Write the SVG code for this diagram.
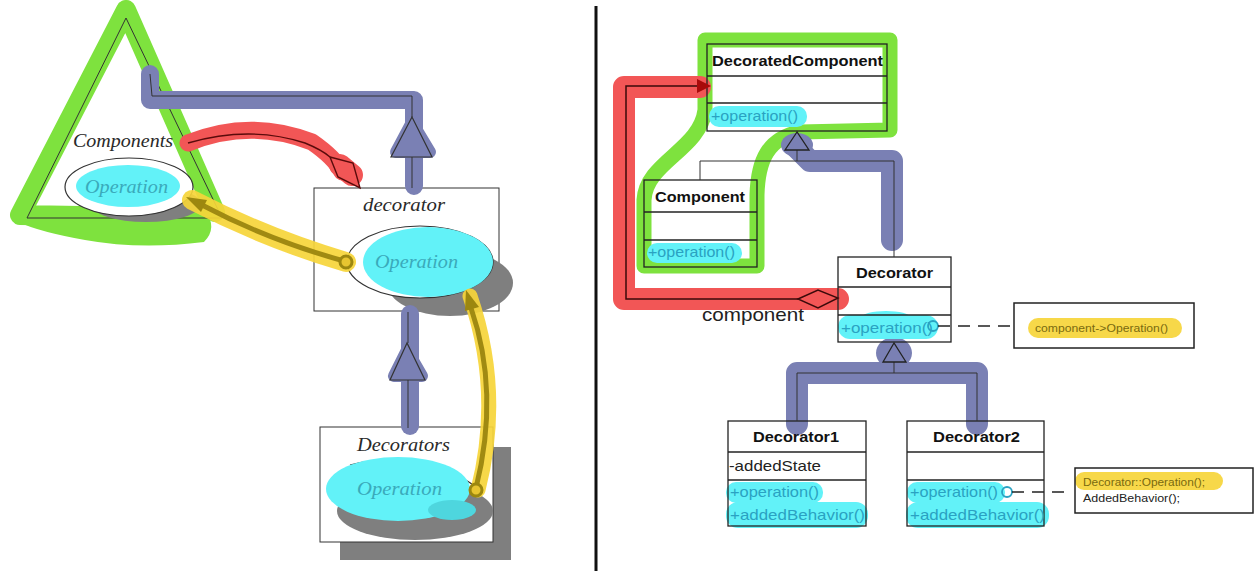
<svg xmlns="http://www.w3.org/2000/svg" width="1254" height="571" viewBox="0 0 1254 571">
<style>
.hg{fill:none;stroke:#7ee23e;stroke-linecap:round;stroke-linejoin:round}
.hb{fill:none;stroke:#7a80b4;stroke-linecap:round;stroke-linejoin:round}
.hr{fill:none;stroke:#f25656;stroke-linecap:round;stroke-linejoin:round}
.hy{fill:none;stroke:#f6d53a;stroke-linecap:round;stroke-linejoin:round;opacity:.92}
.cy{fill:#62f2f8}
.ln{fill:none;stroke:#222;stroke-width:1.3}
.thin{fill:none;stroke:#333;stroke-width:1}
.ol{fill:none;stroke:#a08a12;stroke-linecap:round}
.shadow{fill:#7f7f7f}
.it{font-family:"Liberation Serif","Times New Roman",serif;font-style:italic;font-size:18px;fill:#2a2a2a}
.itc{font-family:"Liberation Serif","Times New Roman",serif;font-style:italic;font-size:19px;fill:#3aaabb}
.t{font-family:"Liberation Sans",Arial,sans-serif;font-size:15px;fill:#222}
.tb{font-family:"Liberation Sans",Arial,sans-serif;font-size:15px;font-weight:bold;fill:#111}
.op{font-family:"Liberation Sans",Arial,sans-serif;font-size:15px;fill:#2aa2c2}
.note{font-family:"Liberation Sans",Arial,sans-serif;font-size:11px;fill:#222}
</style>
<rect width="1254" height="571" fill="#fff"/>
<!-- divider -->
<line x1="596" y1="6" x2="596" y2="571" stroke="#111" stroke-width="3"/>

<!-- ========== LEFT PANEL ========== -->
<g id="components">
  <path class="hg" stroke-width="20" d="M126,10 L20,215 L200,218 M126,10 L215,212"/>
  <path d="M22,210 L205,210 Q218,228 204,242 Q140,250 85,240 Q40,232 18,222 Z" fill="#7ee23e"/>
  <polygon class="thin" points="126,18 27,218 222,218"/>
  <ellipse class="shadow" cx="146" cy="204" rx="55" ry="18"/>
  <ellipse cx="129" cy="187" rx="64" ry="29" fill="#fff" stroke="#333" stroke-width="1.2"/>
  <ellipse class="cy" cx="128" cy="186" rx="52" ry="21"/>
  <text class="it" x="73" y="147" textLength="100" lengthAdjust="spacingAndGlyphs">Components</text>
  <text class="itc" x="85" y="193" textLength="83" lengthAdjust="spacingAndGlyphs">Operation</text>
</g>

<g id="decorator">
  <rect class="thin" x="314" y="188" width="185" height="123" stroke="#555"/>
  <ellipse class="shadow" cx="450" cy="283" rx="63" ry="33"/>
  <ellipse cx="420" cy="262" rx="73" ry="36" fill="#fff" stroke="#333" stroke-width="1.2"/>
  <ellipse class="cy" cx="428" cy="262" rx="65" ry="35"/>
  <text class="it" x="363" y="211" textLength="82" lengthAdjust="spacingAndGlyphs">decorator</text>
  <text class="itc" x="375" y="268" textLength="83" lengthAdjust="spacingAndGlyphs">Operation</text>
</g>

<g id="decorators">
  <path class="shadow" d="M493,447 L511,447 L511,560 L340,560 L340,542 L493,542 Z"/>
  <rect class="thin" x="320" y="427" width="173" height="115" stroke="#555"/>
  <ellipse class="shadow" cx="415" cy="511" rx="78" ry="29"/>
  <path d="M350,465 Q420,448 478,488" fill="none" stroke="#333" stroke-width="1.2"/>
  <ellipse class="cy" cx="398" cy="489" rx="72" ry="32"/>
  <ellipse cx="452" cy="510" rx="24" ry="10" fill="#4ed6de"/>
  <text class="it" x="357" y="451" textLength="93" lengthAdjust="spacingAndGlyphs">Decorators</text>
  <text class="itc" x="357" y="495" textLength="85" lengthAdjust="spacingAndGlyphs">Operation</text>
</g>

<g id="left-connectors">
  <!-- blue inheritance: decorator -> components -->
  <path class="hb" stroke-width="18" d="M150,74 L150,100 L414,100 L414,186"/>
  <path class="hb" stroke-width="12" d="M412,122 L396,152 L430,152 Z"/>
  <path class="thin" d="M150,74 L152,96 L412,96 L412,117 M412,157 L412,188"/>
  <polygon points="412,117 391,157 432,157" fill="#7a80b4" stroke="#333" stroke-width="1.2"/>
  <!-- blue inheritance: decorators -> decorator -->
  <path class="hb" stroke-width="18" d="M410,314 L410,426"/>
  <path class="hb" stroke-width="12" d="M407,350 L394,376 L422,376 Z"/>
  <path class="thin" d="M408,312 L408,343 M408,380 L408,428"/>
  <polygon points="407,343 390,380 425,380" fill="#7a80b4" stroke="#333" stroke-width="1.2"/>
  <!-- red aggregation -->
  <path class="hr" stroke-width="17" d="M188,143 Q250,118 312,142 Q335,158 342,172"/>
  <path class="hr" stroke-width="22" d="M340,165 L352,175"/>
  <path fill="none" stroke="#5a0b0b" stroke-width="1.4" d="M188,143 Q250,125 305,143 Q322,150 330,157"/>
  <polygon points="330,157 353,163 360,188 338,177" fill="#f25656" stroke="#5a0b0b" stroke-width="1.4"/>
  <!-- yellow call arrows -->
  <path class="hy" stroke-width="20" d="M346,262 Q265,238 192,200"/>
  <path class="ol" stroke-width="5" d="M344,261 Q268,240 202,205"/>
  <polygon points="186,197 207,200 201,212" fill="#9c870f"/>
  <circle cx="346" cy="262" r="6" fill="#e8c530" stroke="#9c870f" stroke-width="3"/>
  <path class="hy" stroke-width="15" d="M478,490 Q503,392 470,296"/>
  <path class="ol" stroke-width="5" d="M476,488 Q500,392 471,308"/>
  <polygon points="466,290 479,307 465,311" fill="#9c870f"/>
  <circle cx="476" cy="490" r="6" fill="#e8c530" stroke="#9c870f" stroke-width="3"/>
</g>

<!-- ========== RIGHT PANEL ========== -->
<g id="right-highlights">
  <path class="hg" stroke-width="15" d="M705,40 L890,40 L890,130 L800,132 C768,138 758,160 757,195 L757,266 L644,266 L644,200 C646,162 700,150 705,110 Z"/>
  <path class="hb" stroke-width="22" d="M797,148 L810,161 L892,161 L892,240"/>
  <ellipse cx="797" cy="145" rx="16" ry="12" fill="#7a80b4"/>
  <path class="hb" stroke-width="22" d="M797,424 L797,373 L977,373 L977,424"/>
  <ellipse cx="894" cy="353" rx="18" ry="16" fill="#7a80b4"/>
  <path class="hr" stroke-width="22" d="M838,299 L624,299 L624,87 L700,87"/>
  <path class="hy" stroke-width="20" d="M1038,328 L1172,328"/>
  <path class="hy" stroke-width="18" d="M1084,481 L1214,481"/>
  <!-- cyan operation highlights -->
  <rect class="cy" x="709" y="106" width="98" height="21" rx="10"/>
  <rect class="cy" x="647" y="243" width="95" height="20" rx="10"/>
  <rect class="cy" x="838" y="315" width="100" height="24" rx="12"/>
  <ellipse class="cy" cx="886" cy="317" rx="24" ry="6"/>
  <rect class="cy" x="726" y="482" width="97" height="21" rx="10"/>
  <rect class="cy" x="726" y="502" width="142" height="26" rx="12"/>
  <rect class="cy" x="907" y="482" width="98" height="21" rx="10"/>
  <rect class="cy" x="906" y="502" width="143" height="26" rx="12"/>
</g>

<g id="DecoratedComponent">
  <rect class="ln" x="707" y="44" width="180" height="87"/>
  <line class="ln" x1="707" y1="76" x2="887" y2="76"/>
  <line class="ln" x1="707" y1="103" x2="887" y2="103"/>
  <text class="tb" x="712" y="66" textLength="171" lengthAdjust="spacingAndGlyphs">DecoratedComponent</text>
  <text class="op" x="711" y="121" textLength="87" lengthAdjust="spacingAndGlyphs">+operation()</text>
</g>

<g id="Component">
  <rect class="ln" x="644" y="180" width="113" height="87"/>
  <line class="ln" x1="644" y1="212" x2="757" y2="212"/>
  <line class="ln" x1="644" y1="240" x2="757" y2="240"/>
  <text class="tb" x="655" y="202" textLength="90" lengthAdjust="spacingAndGlyphs">Component</text>
  <text class="op" x="648" y="257" textLength="87" lengthAdjust="spacingAndGlyphs">+operation()</text>
</g>

<g id="Decorator">
  <rect class="ln" x="838" y="257" width="113" height="85"/>
  <line class="ln" x1="838" y1="287" x2="951" y2="287"/>
  <line class="ln" x1="838" y1="315" x2="951" y2="315"/>
  <text class="tb" x="856" y="278" textLength="77" lengthAdjust="spacingAndGlyphs">Decorator</text>
  <text class="op" x="841" y="333" textLength="92" lengthAdjust="spacingAndGlyphs">+operation()</text>
</g>

<g id="Decorator1">
  <rect class="ln" x="728" y="421" width="138" height="105"/>
  <line class="ln" x1="728" y1="452" x2="866" y2="452"/>
  <line class="ln" x1="728" y1="480" x2="866" y2="480"/>
  <text class="tb" x="753" y="442" textLength="86" lengthAdjust="spacingAndGlyphs">Decorator1</text>
  <text class="t" x="729" y="471" textLength="92" lengthAdjust="spacingAndGlyphs">-addedState</text>
  <text class="op" x="730" y="497" textLength="89" lengthAdjust="spacingAndGlyphs">+operation()</text>
  <text class="op" x="730" y="520" textLength="135" lengthAdjust="spacingAndGlyphs">+addedBehavior()</text>
</g>

<g id="Decorator2">
  <rect class="ln" x="907" y="421" width="137" height="105"/>
  <line class="ln" x1="907" y1="452" x2="1044" y2="452"/>
  <line class="ln" x1="907" y1="480" x2="1044" y2="480"/>
  <text class="tb" x="933" y="442" textLength="87" lengthAdjust="spacingAndGlyphs">Decorator2</text>
  <text class="op" x="910" y="497" textLength="88" lengthAdjust="spacingAndGlyphs">+operation()</text>
  <text class="op" x="910" y="520" textLength="135" lengthAdjust="spacingAndGlyphs">+addedBehavior()</text>
</g>

<g id="note1">
  <rect x="1014" y="303" width="180" height="45" fill="none" stroke="#222" stroke-width="1.5"/>
  <text class="note" x="1035" y="332" style="fill:#7a6a10" textLength="133" lengthAdjust="spacingAndGlyphs">component-&gt;Operation()</text>
</g>

<g id="note2">
  <rect x="1075" y="468" width="178" height="45" fill="none" stroke="#222" stroke-width="1.5"/>
  <text class="note" x="1083" y="486" style="fill:#7a6a10" textLength="122" lengthAdjust="spacingAndGlyphs">Decorator::Operation();</text>
  <text class="note" x="1083" y="502" textLength="97" lengthAdjust="spacingAndGlyphs">AddedBehavior();</text>
</g>

<g id="right-connectors">
  <!-- generalization to DecoratedComponent -->
  <path class="thin" d="M700,180 L700,161 L894,161 L894,257 M797,161 L797,150"/>
  <polygon points="797,132 785,150 809,150" fill="#7a80b4" stroke="#222" stroke-width="1.3"/>
  <!-- generalization to Decorator -->
  <path class="thin" d="M797,421 L797,373 L977,373 L977,421 M894,373 L894,362"/>
  <polygon points="894,343 883,362 906,362" fill="#7a80b4" stroke="#222" stroke-width="1.3"/>
  <!-- aggregation component -->
  <path fill="none" stroke="#3a0a0a" stroke-width="1.5" d="M798,299 L626,299 L626,86 L697,86"/>
  <polygon points="697,79 711,86 697,93" fill="#a80a0a"/>
  <polygon points="798,299 818,290 838,298 818,308" fill="#f25656" stroke="#3a0a0a" stroke-width="1.4"/>
  <text x="702" y="321" font-family="Liberation Sans, Arial, sans-serif" font-size="19" fill="#222" textLength="102" lengthAdjust="spacingAndGlyphs">component</text>
  <!-- note links -->
  <circle cx="933" cy="326" r="5" fill="none" stroke="#2aa2c2" stroke-width="1.8"/>
  <line x1="938" y1="326" x2="1014" y2="326" stroke="#222" stroke-width="1.5" stroke-dasharray="12,8"/>
  <circle cx="1007" cy="492" r="5" fill="none" stroke="#2aa2c2" stroke-width="1.8"/>
  <line x1="1012" y1="492" x2="1064" y2="492" stroke="#222" stroke-width="1.5" stroke-dasharray="12,8"/>
</g>
</svg>
